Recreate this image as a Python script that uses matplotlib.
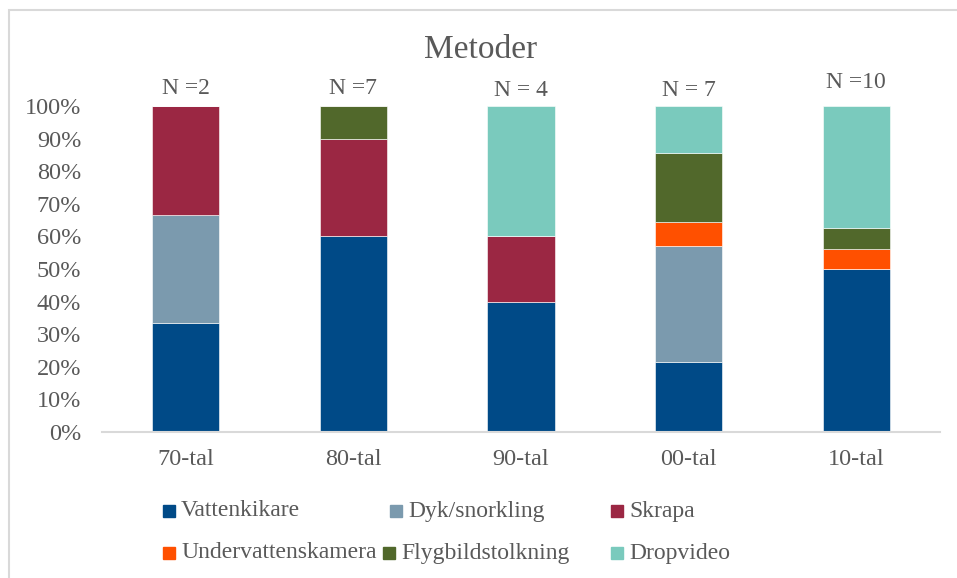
import matplotlib.pyplot as plt
from matplotlib.patches import Rectangle
import numpy as np

plt.rcParams['font.family'] = ['Liberation Serif', 'DejaVu Serif']

perioder = ["70-tal", "80-tal", "90-tal", "00-tal", "10-tal"]
n_labels = ["N =2", "N =7", "N = 4", "N = 7", "N =10"]
metoder = ["Vattenkikare", "Dyk/snorkling", "Skrapa",
           "Undervattenskamera", "Flygbildstolkning", "Dropvideo"]
farger = ["#004a87", "#7b9aae", "#9b2743", "#ff5000", "#51682b", "#7acabd"]

# andel per metod och period
vattenkikare = [1/3, 0.60, 0.40, 3/14, 0.50]
dyk = [1/3, 0.0, 0.0, 5/14, 0.0]
skrapa = [1/3, 0.30, 0.20, 0.0, 0.0]
uv_kamera = [0.0, 0.0, 0.0, 1/14, 1/16]
flygbild = [0.0, 0.10, 0.0, 3/14, 1/16]
dropvideo = [0.0, 0.0, 0.40, 2/14, 6/16]
serier = [vattenkikare, dyk, skrapa, uv_kamera, flygbild, dropvideo]

textfarg = "#595959"
W, H = 957, 578

fig = plt.figure(figsize=(W / 100, H / 100), dpi=100)
ax = fig.add_axes([102/W, 1 - 432/H, 838/W, 326/H])

x = np.arange(len(perioder))
botten = np.zeros(len(perioder))
for namn, serie, farg in zip(metoder, serier, farger):
    ax.bar(x, serie, width=0.4, bottom=botten, color=farg, label=namn,
           edgecolor="white", linewidth=0.4)
    botten += np.array(serie)

ax.set_xlim(-0.5, len(perioder) - 0.5)
ax.set_ylim(0, 1)
yt = np.arange(0, 1.01, 0.1)
ax.set_yticks(yt)
ax.set_yticklabels([f"{int(round(v*100))}%" for v in yt])
ax.set_xticks(x)
ax.set_xticklabels(perioder)
ax.tick_params(axis="both", length=0, labelsize=17.5, colors=textfarg)
ax.tick_params(axis="x", pad=12)
ax.tick_params(axis="y", pad=15)
for s in ["top", "right", "left"]:
    ax.spines[s].set_visible(False)
ax.spines["bottom"].set_color("#d9d9d9")
ax.spines["bottom"].set_linewidth(1.5)

# N-etiketter ovanför staplarna
n_y = [88, 88, 91, 90, 83]
for xi, lab, yy in zip(x, n_labels, n_y):
    ax.text(xi, (432 - yy) / 326, lab, ha="center", va="center",
            fontsize=17, color=textfarg, clip_on=False)

fig.text(481/W, 1 - 50/H, "Metoder", ha="center", va="center",
         fontsize=24, color=textfarg)

# teckenförklaring, två rader
leg_pos = [(163, 511), (390, 511), (611, 511), (163, 553), (383, 553), (611, 553)]
for (px, py), namn, farg in zip(leg_pos, metoder, farger):
    fig.patches.append(Rectangle((px / W, 1 - (py + 6) / H), 12 / W, 12 / H,
                                 transform=fig.transFigure, color=farg))
    fig.text((px + 18) / W, 1 - py / H, namn, ha="left", va="center",
             fontsize=17, color=textfarg)

# ram runt diagrammet
fig.patches.append(Rectangle((9/W, -0.05), 1.1, 1 - 10/H + 0.05, transform=fig.transFigure,
                             fill=False, edgecolor="#d9d9d9", linewidth=1.5))

fig.savefig("out.png", dpi=100)
